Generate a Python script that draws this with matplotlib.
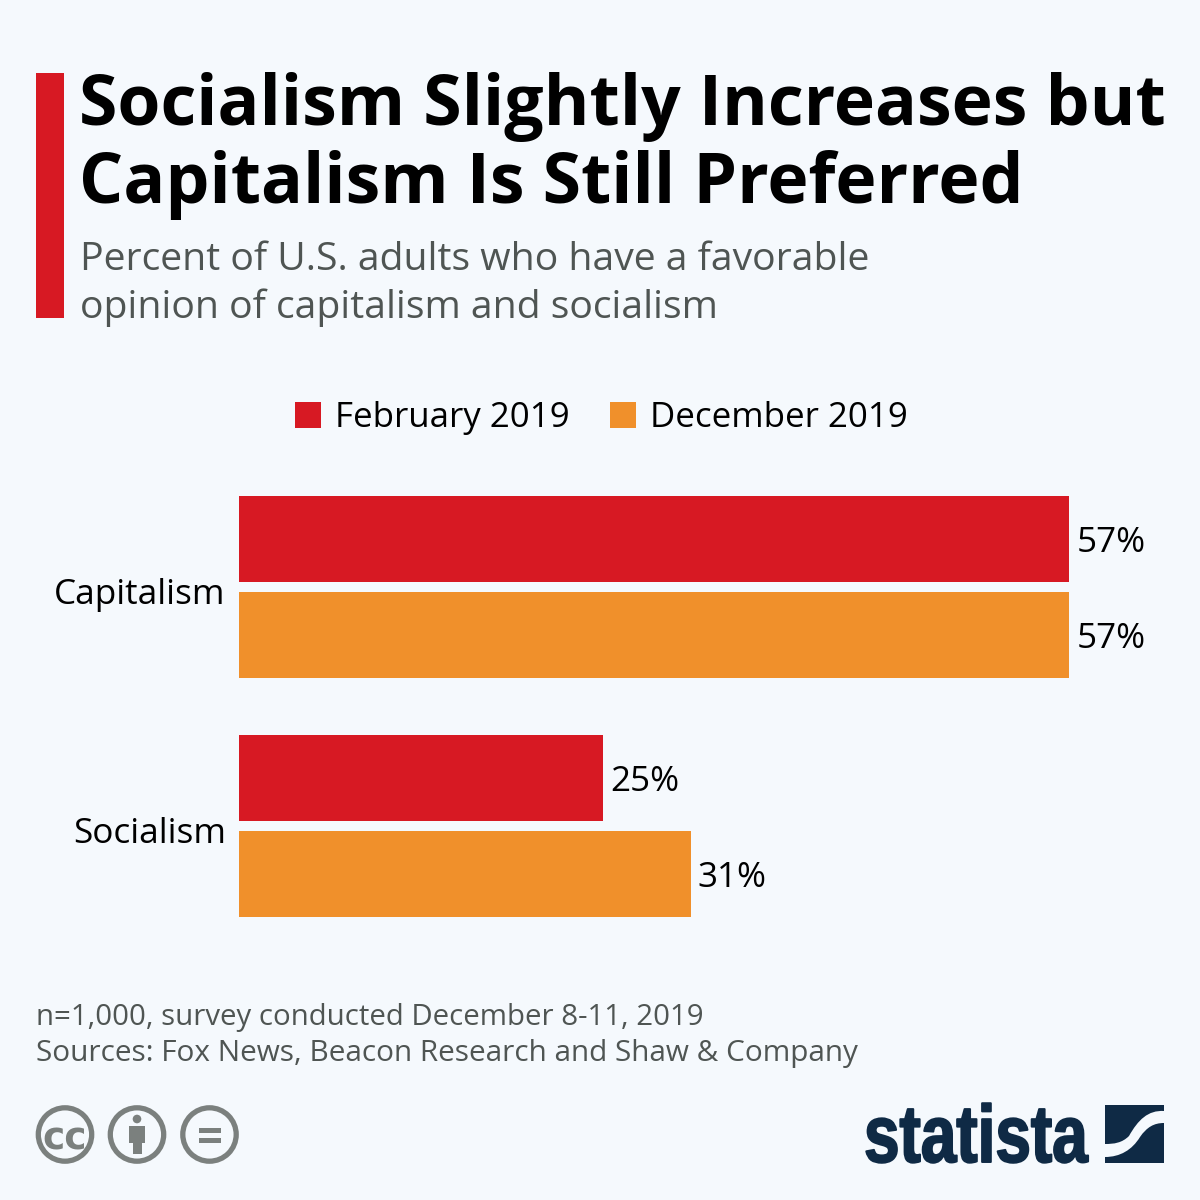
import matplotlib
matplotlib.use("Agg")
import matplotlib.pyplot as plt
from matplotlib.patches import Rectangle, Circle, PathPatch
from matplotlib.path import Path
from matplotlib.patheffects import AbstractPathEffect
from matplotlib.transforms import Affine2D, ScaledTranslation

# ---- data ----
categories = ["Capitalism", "Socialism"]
feb_2019 = [57, 25]
dec_2019 = [57, 31]
series_names = ["February 2019", "December 2019"]
value_format = "{}%"

title_lines = ["Socialism Slightly Increases but", "Capitalism Is Still Preferred"]
subtitle_lines = ["Percent of U.S. adults who have a favorable",
                  "opinion of capitalism and socialism"]
note_lines = ["n=1,000, survey conducted December 8-11, 2019",
              "Sources: Fox News, Beacon Research and Shaw & Company"]

RED = "#D71923"
ORANGE = "#F0902B"
BG = "#F5F9FD"
NAVY = "#0F2A45"
GREY = "#7B807E"
SUB = "#4F5553"

plt.rcParams['font.family'] = ['Open Sans', 'DejaVu Sans']
W = H = 1200
fig = plt.figure(figsize=(12, 12), dpi=100, facecolor=BG)


class Stretch(AbstractPathEffect):
    """Scale glyph outlines vertically about a baseline, keeping the text real."""
    def __init__(self, base_y, sy, stroke=0):
        super().__init__()
        self.base_y, self.sy, self.stroke = base_y, sy, stroke

    def draw_path(self, renderer, gc, tpath, affine, rgbFace=None):
        tr = affine + Affine2D().translate(0, -self.base_y).scale(1, self.sy).translate(0, self.base_y)
        gc0 = renderer.new_gc()
        gc0.copy_properties(gc)
        gc0.set_linewidth(self.stroke)
        gc0.set_foreground(rgbFace)
        renderer.draw_path(gc0, tpath, tr, rgbFace)
        gc0.restore()


# overlay in pixel coordinates (decoration and text layout)
ov = fig.add_axes([0, 0, 1, 1], zorder=0)
ov.set_xlim(0, W); ov.set_ylim(H, 0); ov.axis("off")

# accent bar
ov.add_patch(Rectangle((36, 73), 28, 245, fc=RED, ec="none"))

# title / subtitle
for line, y in zip(title_lines, [98, 176]):
    ov.text(79, y, line, fontsize=50.1, fontweight="bold", color="black", va="center_baseline", ha="left")
for line, y in zip(subtitle_lines, [255, 303]):
    ov.text(80, y, line, fontsize=28.2, color=SUB, va="center_baseline", ha="left")

# legend
ov.add_patch(Rectangle((295, 402), 26, 26, fc=RED, ec="none"))
ov.text(335, 414, series_names[0], fontsize=25.1, color="black", va="center_baseline")
ov.add_patch(Rectangle((609.5, 402), 26, 26, fc=ORANGE, ec="none"))
ov.text(650, 414, series_names[1], fontsize=25.1, color="black", va="center_baseline")

# chart axes: x 239..1069 px is 0..57; y centres at 587 and 826 px
ax = fig.add_axes([239 / W, 1 - 945.5 / H, (1069.2 - 239) / W, (945.5 - 467.5) / H], zorder=1)
ax.patch.set_alpha(0)
ax.set_xlim(0, 57)
ax.set_ylim(1.5, -0.5)
pos = list(range(len(categories)))
h = 86 / 239
off = 48 / 239
b1 = ax.barh([p - off for p in pos], feb_2019, height=h, color=RED)
b2 = ax.barh([p + off for p in pos], dec_2019, height=h, color=ORANGE)
for bars, vals in ((b1, feb_2019), (b2, dec_2019)):
    for bar, v in zip(bars, vals):
        ax.annotate(value_format.format(v), (v, bar.get_y() + bar.get_height() / 2),
                    xytext=(5.3, 0), textcoords="offset points", va="center_baseline", ha="left",
                    fontsize=25.2, color="black", annotation_clip=False)
ax.set_yticks(pos)
ax.set_yticklabels(categories, fontsize=25.3, color="black")
ax.tick_params(axis="y", length=0, pad=9.5)
for lab in ax.get_yticklabels():
    lab.set_transform(lab.get_transform() + ScaledTranslation(0, -4 / 100, fig.dpi_scale_trans))
ax.set_xticks([])
for s in ax.spines.values():
    s.set_visible(False)

# notes
for line, y, fs in zip(note_lines, [1014, 1050], [21.2, 21.4]):
    ov.text(36, y, line, fontsize=fs, color=SUB, va="center_baseline", ha="left")

# licence icons
for cx in (65, 137, 209.5):
    ov.add_patch(Circle((cx, 1134.5), 26.7, fc="none", ec=GREY, lw=3.8))
ov.text(65, 1135, "cc", fontsize=27, fontweight="bold", color=GREY, ha="center", va="center_baseline",
        family=["DejaVu Sans"])
ov.add_patch(Circle((137, 1119), 4.3, fc=GREY, ec="none"))
ov.add_patch(PathPatch(Path([(129, 1126), (145, 1126), (145, 1143), (141.5, 1143), (141.5, 1153.5),
                             (132.5, 1153.5), (132.5, 1143), (129, 1143), (129, 1126)]), fc=GREY, ec="none"))
ov.add_patch(Rectangle((199, 1127.5), 22, 5.5, fc=GREY, ec="none"))
ov.add_patch(Rectangle((199, 1137.5), 22, 5.5, fc=GREY, ec="none"))

# statista wordmark and mark
logo = ov.text(864, 1162, "statista", fontsize=46, fontweight="bold", color=NAVY, ha="left", va="baseline",
               family=["Liberation Sans"])
logo.set_path_effects([Stretch(H - 1162, 1.27, stroke=1.4)])
C = Path.CURVE4; L = Path.LINETO; M = Path.MOVETO
ov.add_patch(PathPatch(Path(
    [(1105, 1105), (1164, 1105), (1164, 1111), (1148, 1110), (1138, 1120), (1129, 1136), (1122, 1143), (1114, 1144), (1105, 1144), (1105, 1105)],
    [M, L, L, C, C, C, C, C, C, L]), fc=NAVY, ec="none"))
ov.add_patch(PathPatch(Path(
    [(1164, 1123), (1164, 1163), (1105, 1163), (1105, 1157), (1120, 1157), (1132, 1150), (1140, 1137), (1147, 1127), (1154, 1123), (1164, 1123)],
    [M, L, L, L, C, C, C, C, C, L]), fc=NAVY, ec="none"))

fig.savefig("out.png", dpi=100, facecolor=BG)
